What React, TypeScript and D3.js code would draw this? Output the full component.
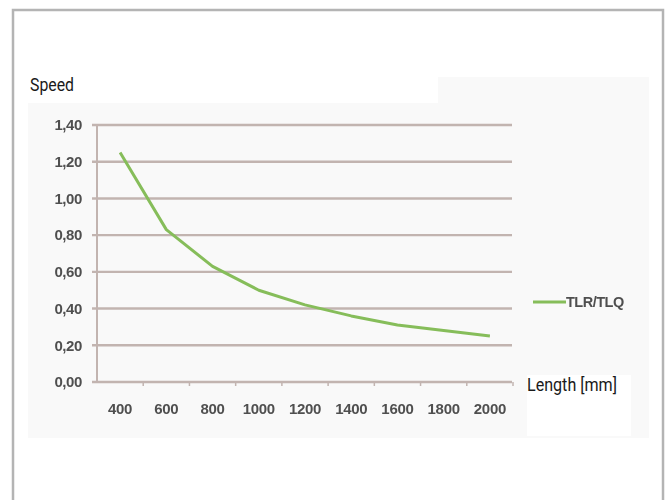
import React from "react";
import * as d3 from "d3";

const categories = ["400", "600", "800", "1000", "1200", "1400", "1600", "1800", "2000"];
const speedValues = [1.25, 0.83, 0.63, 0.5, 0.42, 0.36, 0.31, 0.28, 0.25];
const yTicks = [0, 0.2, 0.4, 0.6, 0.8, 1.0, 1.2, 1.4];
const seriesName = "TLR/TLQ";
const yTitle = "Speed";
const xTitle = "Length [mm]";

export default function App() {
  const W = 668;
  const H = 500;
  const x0 = 97;
  const x1 = 513;
  const yTop = 125;
  const yBottom = 382;

  const x = d3.scaleBand<string>().domain(categories).range([x0, x1]);
  const y = d3.scaleLinear().domain([0, 1.4]).range([yBottom, yTop]);
  const fmt = (v: number) => v.toFixed(2).replace(".", ",");

  const line = d3
    .line<number>()
    .x((_, i) => (x(categories[i]) as number) + x.bandwidth() / 2)
    .y((d) => y(d))
    .curve(d3.curveLinear);

  const gridColor = "#c2b4b0";
  const labelColor = "#505050";
  const green = "#86bd5a";
  const titleFont = "Roboto, 'Liberation Sans', Arial, sans-serif";
  const tickFont = "'Liberation Sans', Arial, sans-serif";

  return (
    <svg
      width={W}
      height={H}
      style={{ position: "absolute", left: 0, top: 0, background: "#fff" }}
    >
      <defs>
        <filter id="soft" x="-10%" y="-20%" width="120%" height="140%">
          <feGaussianBlur stdDeviation="0.5" />
        </filter>
      </defs>
      {/* frame */}
      <rect x={13} y={10} width={650} height={500} fill="#fff" stroke="#b4b4b4" strokeWidth={2.5} />
      {/* chart image background */}
      <rect x={28} y={77} width={621} height={361} fill="#f9f9f9" />
      <rect x={28} y={77} width={410} height={26} fill="#fff" />
      <rect x={527} y={375} width={104} height={61} fill="#fff" />

      {/* gridlines */}
      {yTicks.map((t) => (
        <line
          key={"g" + t}
          x1={x0 - 5}
          x2={x1 - 1}
          y1={y(t)}
          y2={y(t)}
          stroke={gridColor}
          strokeWidth={2.4}
        />
      ))}
      {/* y axis */}
      <line x1={x0} x2={x0} y1={yTop} y2={yBottom} stroke={gridColor} strokeWidth={2} />
      {/* x ticks */}
      {categories.map((c) => (
        <line
          key={"t" + c}
          x1={(x(c) as number) + x.bandwidth()}
          x2={(x(c) as number) + x.bandwidth()}
          y1={yBottom}
          y2={yBottom + 4}
          stroke={gridColor}
          strokeWidth={1.5}
        />
      ))}

      {/* y labels */}
      <g filter="url(#soft)">
        {yTicks.map((t) => (
          <text
            key={"yl" + t}
            x={82}
            y={y(t)}
            dy="0.35em"
            textAnchor="end"
            fontFamily={tickFont}
            fontSize={15}
            fontWeight="bold"
            fill={labelColor}
            letterSpacing={-0.4}
          >
            {fmt(t)}
          </text>
        ))}
        {categories.map((c) => (
          <text
            key={"xl" + c}
            x={(x(c) as number) + x.bandwidth() / 2}
            y={414}
            textAnchor="middle"
            fontFamily={tickFont}
            fontSize={15}
            fontWeight="bold"
            fill={labelColor}
            letterSpacing={-0.3}
          >
            {c}
          </text>
        ))}
        {/* legend */}
        <line x1={533} x2={566} y1={302} y2={302} stroke={green} strokeWidth={3} />
        <text
          x={566}
          y={302}
          dy="0.35em"
          fontFamily={tickFont}
          fontSize={14.5}
          fontWeight="bold"
          fill={labelColor}
          letterSpacing={-0.5}
        >
          {seriesName}
        </text>
      </g>

      {/* series line */}
      <path d={line(speedValues) || ""} fill="none" stroke={green} strokeWidth={3} strokeLinejoin="round" />

      {/* titles */}
      <text
        x={30}
        y={91}
        fontFamily={titleFont}
        fontSize={18}
        fontWeight={400}
        fill="#1a1a1a"
        textLength={44}
        lengthAdjust="spacingAndGlyphs"
      >
        {yTitle}
      </text>
      <text
        x={527}
        y={391}
        fontFamily={titleFont}
        fontSize={18}
        fontWeight={400}
        fill="#1a1a1a"
        textLength={90}
        lengthAdjust="spacingAndGlyphs"
      >
        {xTitle}
      </text>
    </svg>
  );
}
